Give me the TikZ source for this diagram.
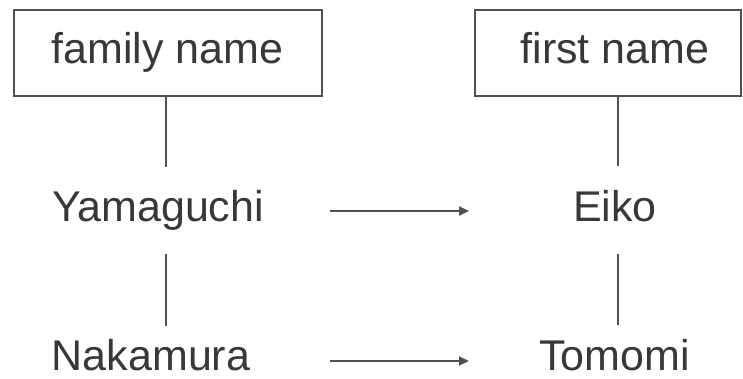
\documentclass[tikz,border=0pt]{standalone}
\usepackage{fontspec}
\setmainfont{Liberation Sans}
\usetikzlibrary{arrows.meta}
\definecolor{ink}{HTML}{383838}
\definecolor{rule}{HTML}{505050}
\begin{document}
\begin{tikzpicture}[x=1pt,y=-1pt,
  box/.style={draw=rule,line width=2pt,inner sep=0pt,minimum height=86pt},
  word/.style={text=ink,inner sep=0pt,anchor=base,font=\fontsize{43}{50}\selectfont},
  conn/.style={draw=rule,line width=2pt},
  arr/.style={draw=rule,line width=2pt,-{Triangle[length=10pt,width=9pt]}}]
  \useasboundingbox (0,0) rectangle (743,378);
  \fill[white] (0,0) rectangle (743,378);

  % header boxes
  \node[box,minimum width=308pt] (fam) at (168,53) {};
  \node[box,minimum width=266pt] (fst) at (608,53) {};
  \node[word] (famlbl) at (167.5,63) {family name};
  \node[word] (fstlbl) at (615,63) {first name};

  % names
  \node[word] (yama) at (158,221) {Yamaguchi};
  \node[word] (naka) at (151,370) {Nakamura};
  \node[word] (eiko) at (615,221) {Eiko};
  \node[word] (tomo) at (614.5,370) {Tomomi};

  % ends of the vertical connectors
  \coordinate (a1) at (166,167);
  \coordinate (a2) at (166,254);
  \coordinate (a3) at (166,326);
  \coordinate (b1) at (618,166);
  \coordinate (b2) at (618,254);
  \coordinate (b3) at (618,325);
  \draw[conn] (fam.south -| a1) -- (a1);
  \draw[conn] (a2) -- (a3);
  \draw[conn] (fst.south -| b1) -- (b1);
  \draw[conn] (b2) -- (b3);

  % arrows between the two columns
  \coordinate (p1) at (330,211);
  \coordinate (q1) at (469,211);
  \coordinate (p2) at (330,361);
  \coordinate (q2) at (469,361);
  \draw[arr] (p1) -- (q1);
  \draw[arr] (p2) -- (q2);
\end{tikzpicture}
\end{document}
